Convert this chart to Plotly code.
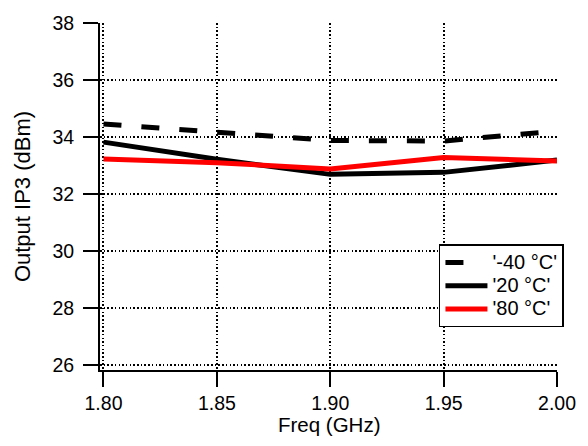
import plotly.graph_objects as go

freq = [1.80, 1.85, 1.90, 1.95, 2.00]
ip3_m40 = [34.46, 34.19, 33.88, 33.86, 34.21]
ip3_20 = [33.82, 33.22, 32.69, 32.76, 33.19]
ip3_80 = [33.23, 33.10, 32.88, 33.28, 33.16]
names = ["'-40 °C'", "'20 °C'", "'80 °C'"]
xticks = [1.80, 1.85, 1.90, 1.95, 2.00]
xtick_text = ["1.80", "1.85", "1.90", "1.95", "2.00"]
yticks = [26, 28, 30, 32, 34, 36, 38]

FONT = "Liberation Sans, Arial, sans-serif"
GRIDDASH = "1.5px,2.2px"


def leg(name):
    return '<span style="font-size:20px">' + name + '</span>'


fig = go.Figure()
# legend-only entry for the dashed series (single dash sample, as in the reference)
fig.add_trace(go.Scatter(x=[None], y=[None], mode="lines", name=leg(names[0]),
                         line=dict(color="black", width=5, dash="18px,80px")))
fig.add_trace(go.Scatter(x=freq, y=ip3_m40, mode="lines", name=names[0], showlegend=False,
                         line=dict(color="black", width=5, dash="18px,20px")))
fig.add_trace(go.Scatter(x=freq, y=ip3_20, mode="lines", name=leg(names[1]),
                         line=dict(color="black", width=5)))
fig.add_trace(go.Scatter(x=freq, y=ip3_80, mode="lines", name=leg(names[2]),
                         line=dict(color="#ff0000", width=5)))

fig.update_layout(
    width=588, height=446,
    margin=dict(l=100, r=29, t=19, b=76),
    plot_bgcolor="white", paper_bgcolor="white",
    font=dict(family=FONT, size=19.5, color="black"),
    showlegend=True,
    legend=dict(x=1.0152, y=0.362, xanchor="right", yanchor="top",
                bgcolor="white", bordercolor="black", borderwidth=1.5,
                font=dict(size=15.6), tracegroupgap=0, itemwidth=42),
    xaxis=dict(range=[1.79846, 2.0], tickvals=xticks, ticktext=xtick_text,
               showgrid=True, gridcolor="black", griddash=GRIDDASH, gridwidth=1.5,
               showline=True, linecolor="black", linewidth=2,
               ticks="outside", ticklen=15, tickwidth=2, tickcolor="black",
               zeroline=False),
    yaxis=dict(range=[25.827, 38.0], tickvals=yticks,
               showgrid=True, gridcolor="black", griddash=GRIDDASH, gridwidth=1.5,
               showline=True, linecolor="black", linewidth=2,
               ticks="outside", ticklen=15, tickwidth=2, tickcolor="black",
               ticklabelstandoff=5,
               zeroline=False,
               title=dict(text="Output IP3 (dBm)", standoff=16, font=dict(size=22))),
    annotations=[dict(text="Freq (GHz)", xref="paper", yref="paper",
                      x=0.503, y=-0.157, xanchor="center", yanchor="middle",
                      showarrow=False, font=dict(size=20.5))],
)

fig.write_html("out.html")
